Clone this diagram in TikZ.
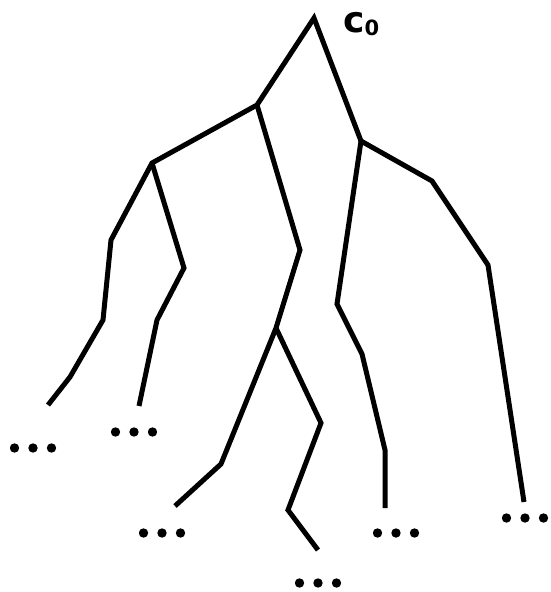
\documentclass[tikz,border=0pt]{standalone}
\usepackage{fontspec}
\setmainfont{DejaVu Sans}
\usetikzlibrary{positioning}
\tikzset{
  branch/.style={line width=5pt,black},
  moredots/.style={minimum width=46pt,minimum height=10pt,inner sep=0pt,
    path picture={\foreach \k in {-1,0,1}{\fill (path picture bounding box.center) ++(\k*18.5pt,0) circle (4.7pt);}}},
  rootlabel/.style={anchor=base west,inner sep=0pt,font=\bfseries}
}

\begin{document}
\begin{tikzpicture}[x=1pt,y=-1pt]
  \useasboundingbox (0,0) rectangle (550,592);
  \coordinate (root) at (314,18);
  \coordinate (a) at (257,105);
  \coordinate (b) at (152,163);
  \coordinate (c) at (361,141);
  \coordinate (d) at (276,328);
  \coordinate (e1) at (48,405);
  \coordinate (e2) at (139,406);
  \coordinate (e3) at (175,506);
  \coordinate (e4) at (318,550);
  \coordinate (e5) at (385,508);
  \coordinate (e6) at (524,502);
  \node[rootlabel] (c0) at (343,32) {\fontsize{36}{36}\selectfont c\raisebox{-3pt}{\fontsize{21}{21}\selectfont 0}};
  \draw[branch] (e1) -- (70,377) -- (103,320) -- (111,240) -- (b) -- (a) -- (root) -- (c) -- (432,181) -- (488,265) -- (e6);
  \draw[branch] (b) -- (184,268) -- (157,320) -- (e2);
  \draw[branch] (a) -- (300,250) -- (d) -- (221,464) -- (e3);
  \draw[branch] (d) -- (321,423) -- (288,510) -- (e4);
  \draw[branch] (c) -- (337,304) -- (362,354) -- (385,450) -- (e5);
  \node[moredots] (m1) at (33,448) {};
  \node[moredots] (m2) at (134,432) {};
  \node[moredots] (m3) at (162,533) {};
  \node[moredots] (m4) at (318,583) {};
  \node[moredots] (m5) at (396,533) {};
  \node[moredots] (m6) at (525,518) {};
\end{tikzpicture}
\end{document}
